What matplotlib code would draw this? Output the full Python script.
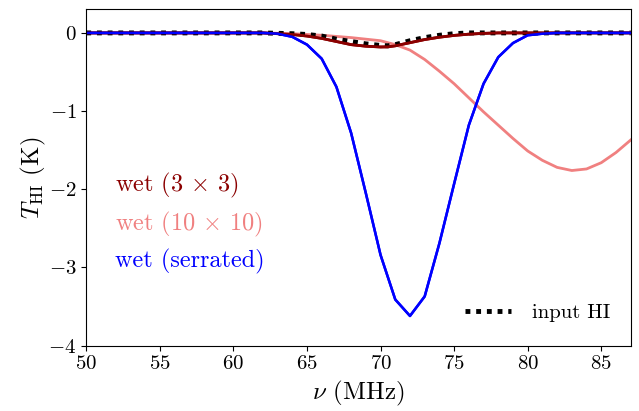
import numpy as np
import matplotlib
matplotlib.use("Agg")
import matplotlib.pyplot as plt

plt.rcParams['font.family'] = 'cmr10'
plt.rcParams['mathtext.fontset'] = 'cm'
plt.rcParams['axes.formatter.use_mathtext'] = True

# frequency grid (MHz)
nu = np.arange(50, 88)

# input HI (black dotted)
nu_in = [50, 62, 63, 64, 65, 66, 67, 68, 69, 70, 70.5, 71, 72, 73, 74, 75, 76, 87]
T_in = [0, 0, -0.005, -0.01, -0.02, -0.04, -0.08, -0.11, -0.14, -0.16, -0.165, -0.15,
        -0.10, -0.06, -0.03, -0.01, 0, 0]

# wet (3x3)
nu_3 = [50, 62, 63, 64, 65, 66, 67, 68, 69, 70, 70.5, 71, 72, 73, 74, 75, 76, 77, 78, 87]
T_3 = [0, 0, -0.01, -0.02, -0.04, -0.07, -0.11, -0.15, -0.17, -0.18, -0.178, -0.165,
       -0.125, -0.085, -0.055, -0.032, -0.016, -0.006, 0, 0]

# wet (10x10)
nu_10 = [50, 62, 64, 66, 68, 70, 71, 72, 73, 74, 75, 76, 77, 78, 79, 80, 81, 82, 83, 84, 85, 86, 87]
T_10 = [0, 0, -0.01, -0.03, -0.06, -0.10, -0.15, -0.22, -0.34, -0.49, -0.65, -0.83,
        -1.01, -1.18, -1.35, -1.51, -1.63, -1.72, -1.76, -1.74, -1.66, -1.53, -1.37]

# wet (serrated), sampled every 1 MHz
T_ser = [0] * 13 + [-0.01, -0.05, -0.15, -0.33, -0.69, -1.28, -2.05, -2.84, -3.41,
                    -3.62, -3.37, -2.69, -1.93, -1.18, -0.65, -0.31, -0.13, -0.03,
                    -0.01] + [0] * 6

fig = plt.figure(figsize=(6.39, 4.11), dpi=100)
ax = fig.add_axes([0.135, 0.159, 0.852, 0.818])

l3, = ax.plot(nu_3, T_3, color='darkred', lw=2, label=r'wet (3 $\times$ 3)')
l10, = ax.plot(nu_10, T_10, color='lightcoral', lw=2, label=r'wet (10 $\times$ 10)')
ls, = ax.plot(nu, T_ser, color='blue', lw=1.8, label='wet (serrated)')
lin, = ax.plot(nu_in, T_in, color='black', lw=3.5, ls=(0, (1, 1.2)), label='input HI')
# draw wet curves above the dotted line like the original
ax.plot(nu_3, T_3, color='darkred', lw=2)
ax.plot(nu, T_ser, color='blue', lw=1.8)

ax.set_xlim(50, 87)
ax.set_ylim(-4, 0.3)
ax.set_yticks([0, -1, -2, -3, -4])
ax.set_xticks(np.arange(50, 90, 5))
ax.tick_params(labelsize=15)
ax.set_xlabel(r'$\nu$ (MHz)', fontsize=18)
ax.set_ylabel(r'$T_{\rm HI}$ (K)', fontsize=18, labelpad=0)

leg1 = ax.legend(handles=[l3, l10, ls], loc='center left', bbox_to_anchor=(0.035, 0.367),
                 frameon=False, handlelength=0, handletextpad=0, fontsize=17.5,
                 labelcolor='linecolor', labelspacing=0.4, borderaxespad=0)
for h in leg1.legend_handles:
    h.set_visible(False)
ax.add_artist(leg1)
ax.legend(handles=[lin], loc='center right', frameon=False, fontsize=15,
          handlelength=2.2, handletextpad=1.0, bbox_to_anchor=(0.977, 0.097),
          borderaxespad=0)

fig.savefig('out.png', dpi=100)
